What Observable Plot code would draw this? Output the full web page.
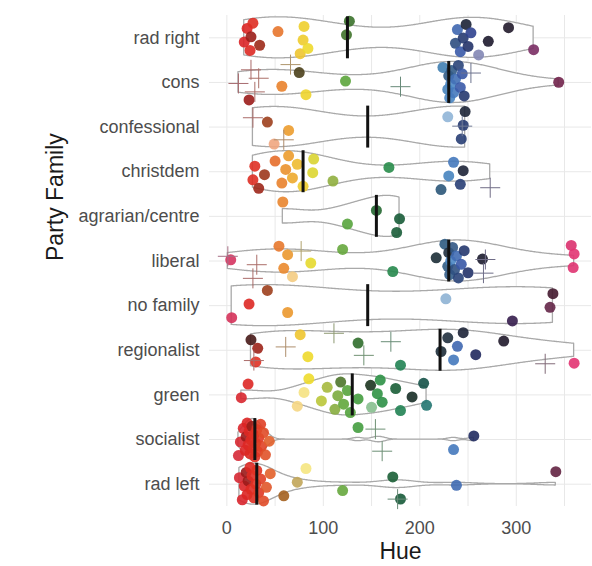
<!DOCTYPE html>
<html><head><meta charset="utf-8">
<script src="https://cdn.jsdelivr.net/npm/d3@7"></script>
<script src="https://cdn.jsdelivr.net/npm/@observablehq/plot@0.6"></script>
<style>body{margin:0;background:#fff;}</style>
</head><body><div id="chart"></div>
<script>
// Party families, top to bottom
const families = ["rad right","cons","confessional","christdem","agrarian/centre","liberal","no family","regionalist","green","socialist","rad left"];

// Party colours per family: hue (HCL) + tone letter (d = dark, k = near black, l = light, m = muted)
const radRight = ["18","21","24","25d","27","34d","53","76","79","80","84","124d","127d","237d","239","242","245d","248k","250d","253","261l","271k","292k","318"];
const cons = ["23d","57","75k","82","123","224","229","230d","231","232","233d","235","237","240d","242","244","246d","344"];
const confessional = ["42d","49l","64","229l","243d","245d","247k"];
const christdem = ["27","29","33d","39d","50","57","61","64","68","73","79","89","90","110","168","222d","230","235","242d","245k"];
const agrarian = ["58","125","155d","176d","179d"];
const liberal = ["4","54","59","63","68l","87","120","172","217k","226d","229d","230k","231d","232","234d","236d","238","240d","243","246d","250d","265k","357","359","360"];
const noFamily = ["5","23","42d","63","227l","296d","335","338d"];
const regionalist = ["25k","30","32d","76","84","136d","180","222k","229k","235","239","245k","258d","287k","360"];
const green = ["15","22","73l","80l","85","98","104","112","115","118d","121","125","128","136","149k","150l","156","159","161","175d","180","192k","204d","207"];
const socialist = ["12","14","17","19","20d","21","22","23","24","25","26d","27","28","29","30","31","32","33","35","36","38","40","44","136","235","256d"];
const radLeft = ["13","16","18","20d","21","22d","24","25","26","28","30","31","33","35","38","41","45","59d","73m","82l","120","172d","180d","238","341"];

// Parties drawn as crosses (hue only)
const radRightPlus = [];
const consPlus = [12, 25, 29, 33, 66, 180, 253];
const confessionalPlus = [27, 59, 244];
const christdemPlus = [273];
const agrarianPlus = [];
const liberalPlus = [1, 27, 31, 77, 266, 268];
const noFamilyPlus = [];
const regionalistPlus = [28, 61, 111, 142, 170, 330];
const greenPlus = [];
const socialistPlus = [154, 161];
const radLeftPlus = [177];

// Median hue per family
const medianHue = [125, 230, 146, 79, 155, 230, 146, 221, 130, 29, 31];

const xTicks = [0, 100, 200, 300];

const dotLists = [radRight, cons, confessional, christdem, agrarian, liberal, noFamily, regionalist, green, socialist, radLeft];
const plusLists = [radRightPlus, consPlus, confessionalPlus, christdemPlus, agrarianPlus, liberalPlus, noFamilyPlus, regionalistPlus, greenPlus, socialistPlus, radLeftPlus];

// hue -> display colour
const hueColor = d3.scaleLinear()
  .domain([0, 10, 20, 32, 42, 55, 65, 75, 85, 95, 108, 122, 140, 165, 185, 205, 220, 232, 242, 255, 270, 295, 318, 340, 346, 353, 360])
  .range(["#d63a7a","#d42a3a","#dc2424","#e03424","#e05a2a","#e87a2c","#eca02e","#eec230","#eedc2c","#c4cc38","#98b040","#5ea63c","#3c9a40","#2a8e48","#1e7e56","#1e7468","#3a7aa8","#4a86c4","#3a5aa8","#2e3e8a","#352c78","#4a2a6e","#7a2e64","#5e2440","#7a2450","#d02c68","#e23472"])
  .interpolate(d3.interpolateRgb).clamp(true);
function toneColor(h, t) {
  const c = hueColor(h);
  if (t === "d") return d3.color(c).darker(1).formatHex();
  if (t === "k") return d3.interpolateRgb(c, "#141414")(0.75);
  if (t === "l") return d3.interpolateRgb(c, "#ffffff")(0.4);
  if (t === "m") return d3.interpolateRgb(c, "#8a8a8a")(0.45);
  return c;
}

const GOLD = 0.6180339887;
const dots = [], pluses = [], violins = [];
families.forEach((f, i) => {
  dotLists[i].forEach((s, j) => {
    const h = parseFloat(s), t = s.replace(/[0-9.]/g, "");
    dots.push({family: f, i, hue: h, color: toneColor(h, t), jit: ((((j + 1) * GOLD + i * 0.37) % 1) - 0.5) * 0.8});
  });
  plusLists[i].forEach((h, j) => {
    pluses.push({family: f, i, hue: h, color: d3.interpolateRgb(hueColor(h), "#8e8e8e")(0.65), jit: ((((j + 1) * GOLD + i * 0.71 + 0.2) % 1) - 0.5) * 0.8});
  });
  // violin: gaussian KDE, R's nrd0 bandwidth, trimmed, scaled to equal width
  const v = dotLists[i].map(parseFloat).concat(plusLists[i]).sort(d3.ascending);
  const sd = d3.deviation(v), iqr = d3.quantile(v, 0.75) - d3.quantile(v, 0.25);
  let lo = Math.min(sd, iqr / 1.34); if (!lo) lo = sd || 1;
  const bw = 0.9 * lo * Math.pow(v.length, -0.2);
  const a = v[0], b = v[v.length - 1];
  const xs = d3.range(0, 301).map(k => a + (b - a) * k / 300);
  const dens = xs.map(x => d3.sum(v, xi => Math.exp(-0.5 * ((x - xi) / bw) ** 2)));
  const m = d3.max(dens);
  xs.forEach((x, k) => violins.push({family: f, i, hue: x, half: 0.46 * dens[k] / m}));
});
const medRows = families.map((f, i) => ({family: f, i, hue: medianHue[i]}));

const chart = Plot.plot({
  width: 592, height: 566,
  marginLeft: 209, marginRight: 1, marginTop: 15, marginBottom: 60,
  style: {fontFamily: "'Liberation Sans', Arial, sans-serif", background: "white"},
  x: {domain: [-18, 378]},
  y: {domain: [-0.5, 10.5], reverse: true},
  color: {type: "identity"},
  marks: [
    Plot.gridX({ticks: d3.range(0, 351, 50), stroke: "#e8e8e8", strokeOpacity: 1}),
    Plot.gridY({ticks: d3.range(11), stroke: "#e8e8e8", strokeOpacity: 1}),
    Plot.areaY(violins, {x: "hue", y1: d => d.i - d.half, y2: d => d.i + d.half, z: "family", fill: "white", stroke: "#a9a9a9", strokeWidth: 1.3}),
    Plot.dot(dots, {x: "hue", y: d => d.i + d.jit, r: 5.5, fill: "color", fillOpacity: 0.9}),
    Plot.dot(pluses, {x: "hue", y: d => d.i + d.jit, symbol: "plus", r: 6.5, stroke: "color", strokeWidth: 1}),
    Plot.ruleX(medRows, {x: "hue", y1: d => d.i - 0.47, y2: d => d.i + 0.47, stroke: "#111", strokeWidth: 3}),
    Plot.axisX({ticks: xTicks, tickSize: 0, tickPadding: 15, fontSize: 18, color: "#4d4d4d", label: null}),
    Plot.axisY({ticks: d3.range(11), tickFormat: i => families[i], tickSize: 0, tickPadding: 10, fontSize: 18, color: "#4d4d4d", label: null}),
    Plot.text(["Hue"], {text: d => d, frameAnchor: "bottom", dy: 52, fontSize: 23, fill: "#1a1a1a"}),
    Plot.text(["Party Family"], {text: d => d, frameAnchor: "left", dx: -154, rotate: -90, fontSize: 23, fill: "#1a1a1a"})
  ]
});
document.getElementById("chart").appendChild(chart);
</script>
</body></html>
